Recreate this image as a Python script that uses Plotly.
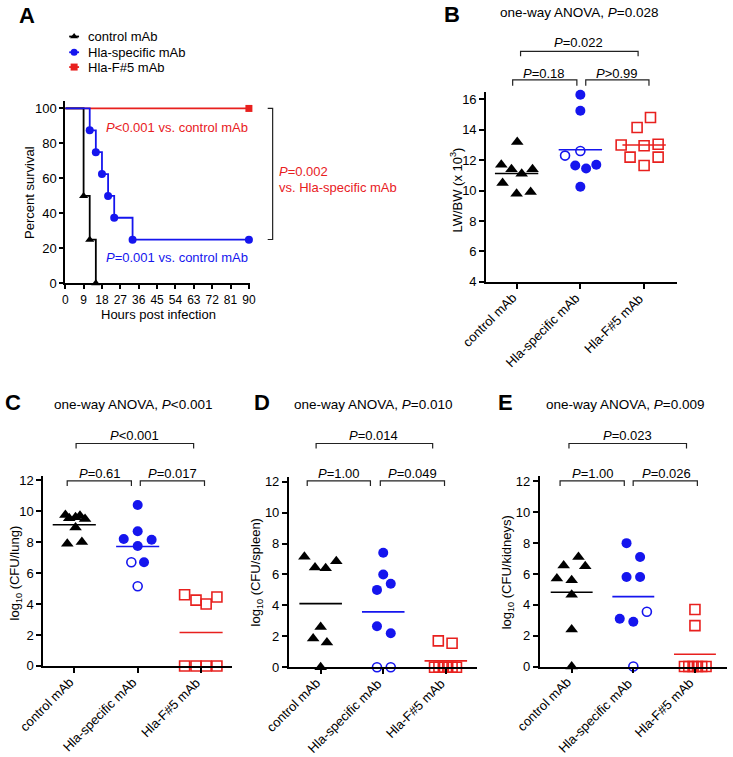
import numpy as np
import plotly.graph_objects as go

# ---------------- data ----------------
groups = ["control mAb", "Hla-specific mAb", "Hla-F#5 mAb"]

# Panel A: Kaplan-Meier survival
ctrl_hours = [0, 9, 12, 15]
ctrl_surv = [100, 50, 25, 0]
hla_hours = [0, 12, 15, 18, 21, 24, 33, 90]
hla_surv = [100, 87.5, 75, 62.5, 50, 37.5, 25, 25]
f5_hours = [0, 90]
f5_surv = [100, 100]
a_xticks = list(range(0, 91, 9))
a_yticks = [0, 20, 40, 60, 80, 100]

# Panel B: LW/BW (x 10^3)
b_ctrl = [13.2, 11.7, 11.4, 11.4, 11.1, 10.5, 9.8, 9.9]
b_hla = [16.3, 15.25, 12.3, 12.6, 11.65, 11.45, 11.7, 10.25]
b_hla_open = [0, 0, 1, 1, 0, 0, 0, 0]
b_f5 = [14.8, 14.15, 13.0, 12.95, 13.05, 12.2, 12.2, 11.65]
b_yticks = [4, 6, 8, 10, 12, 14, 16]

# Panel C: log10 CFU / lung
c_ctrl = [9.75, 9.55, 9.7, 9.5, 9.6, 8.95, 7.9, 8.0]
c_hla = [10.4, 8.7, 8.2, 8.15, 7.75, 6.7, 6.7, 5.15]
c_hla_open = [0, 0, 0, 0, 0, 1, 0, 1]
c_f5 = [4.6, 4.25, 4.0, 4.45, 0, 0, 0, 0]

# Panel D: log10 CFU / spleen
d_ctrl = [7.15, 6.45, 6.4, 6.85, 2.6, 1.85, 1.6, 0]
d_hla = [7.4, 6.0, 5.4, 5.0, 2.65, 2.2, 0, 0]
d_hla_open = [0, 0, 0, 0, 0, 0, 1, 1]
d_f5 = [1.7, 1.55, 0, 0, 0, 0, 0, 0]

# Panel E: log10 CFU / kidneys
e_ctrl = [7.1, 6.55, 6.5, 5.7, 5.6, 4.65, 2.4, 0]
e_hla = [8.0, 7.1, 5.8, 5.8, 3.1, 2.9, 3.55, 0]
e_hla_open = [0, 0, 0, 0, 0, 0, 1, 1]
e_f5 = [3.7, 2.65, 0, 0, 0, 0, 0, 0]
cfu_yticks = [0, 2, 4, 6, 8, 10, 12]

# ---------------- layout helpers (positions / styles) ----------------
W, H = 733, 757
BLACK, BLUE, RED = "#000000", "#1515ee", "#e8201e"
FONT = "Liberation Sans, Arial, sans-serif"


def px(x):
    return x / W


def py(y):
    return 1 - y / H


# horizontal scatter offsets (jitter) within each category
b_dx = [[0.01, -0.24, -0.08, 0.25, 0.08, -0.22, 0.0, 0.22],
        [0.0, 0.0, -0.24, 0.0, -0.08, 0.09, 0.25, 0.0],
        [0.1, -0.11, -0.36, 0.0, 0.22, -0.22, 0.22, 0.0]]
c_dx = [[-0.14, -0.08, 0.09, 0.17, 0.02, 0.02, -0.11, 0.12],
        [0.0, 0.0, -0.22, 0.22, 0.0, -0.1, 0.1, 0.0],
        [-0.26, -0.08, 0.08, 0.25, -0.26, -0.08, 0.08, 0.25]]
d_dx = [[-0.26, -0.09, 0.08, 0.25, 0.0, -0.12, 0.1, 0.0],
        [0.0, 0.0, 0.12, -0.1, -0.1, 0.12, -0.1, 0.12],
        [-0.12, 0.1, -0.18, -0.11, -0.04, 0.03, 0.1, 0.17]]
e_dx = [[0.11, -0.13, 0.22, -0.24, 0.0, 0.0, 0.0, 0.0],
        [-0.11, 0.11, -0.11, 0.11, -0.22, 0.0, 0.22, 0.0],
        [0.0, 0.0, -0.17, -0.1, -0.03, 0.04, 0.11, 0.18]]

# axis geometry in pixels: (x-left, x-right, range-lo, range-hi, y-bottom, y-top, yrange-hi)
geo = {
    "2": (489, 682, -0.48, 2.51, 283, 90, 16.5),
    "3": (40.7, 232, -0.49, 2.49, 672.7, 480, 12.27),
    "4": (289.3, 480, -0.51, 2.5, 674, 481, 12.3),
    "5": (543.3, 733, -0.52, 2.52, 673.3, 480, 12.35),
}

fig = go.Figure()
annotations = []
shapes = []


def ann(text, x, y, size=13, color=BLACK, xanchor="center", yanchor="middle", angle=0, bold=False):
    if bold:
        text = "<b>" + text + "</b>"
    annotations.append(dict(text=text, x=px(x), y=py(y), xref="paper", yref="paper",
                            xanchor=xanchor, yanchor=yanchor, showarrow=False,
                            textangle=angle, font=dict(size=size, color=color, family=FONT)))


def bracket(x1, x2, yline, yleg, color="#222222"):
    shapes.append(dict(type="path", xref="paper", yref="paper",
                       path=f"M {px(x1)},{py(yleg)} L {px(x1)},{py(yline)} L {px(x2)},{py(yline)} L {px(x2)},{py(yleg)}",
                       line=dict(color=color, width=1.2)))


# ---------------- Panel A ----------------
for hrs, sv, col, sym, msz in [(f5_hours, f5_surv, RED, "square", 7),
                               (ctrl_hours, ctrl_surv, BLACK, "triangle-up", 8),
                               (hla_hours, hla_surv, BLUE, "circle", 8)]:
    fig.add_trace(go.Scatter(x=hrs, y=sv, mode="lines", line=dict(color=col, width=1.8, shape="hv"),
                             xaxis="x", yaxis="y", showlegend=False, cliponaxis=False))
    fig.add_trace(go.Scatter(x=hrs[1:], y=sv[1:], mode="markers",
                             marker=dict(symbol=sym, size=msz, color=col),
                             xaxis="x", yaxis="y", showlegend=False, cliponaxis=False))

# manual legend (overlay axis in pixel units)
leg = [(groups[0], BLACK, "triangle-up", 34), (groups[1], BLUE, "circle", 50), (groups[2], RED, "square", 65)]
for name, col, sym, yy in leg:
    fig.add_trace(go.Scatter(x=[67, 77], y=[yy, yy], mode="lines", line=dict(color=col, width=1.8),
                             xaxis="x6", yaxis="y6", showlegend=False))
    fig.add_trace(go.Scatter(x=[72], y=[yy], mode="markers", marker=dict(symbol=sym, size=7, color=col),
                             xaxis="x6", yaxis="y6", showlegend=False))
    ann(name, 84, yy, xanchor="left")

ann("A", 24, 13, size=22, bold=True)
ann("<i>P</i>&lt;0.001 vs. control mAb", 102, 126, color=RED, xanchor="left")
ann("<i>P</i>=0.001 vs. control mAb", 102, 258, color=BLUE, xanchor="left")
shapes.append(dict(type="path", xref="paper", yref="paper",
                   path=f"M {px(268)},{py(107)} L {px(273)},{py(107)} L {px(273)},{py(240)} L {px(268)},{py(240)}",
                   line=dict(color="#222222", width=1.2)))
ann("<i>P</i>=0.002", 277, 171, color=RED, xanchor="left")
ann("vs. Hla-specific mAb", 277, 187, color=RED, xanchor="left")
ann("Hours post infection", 157, 316)
ann("Percent survival", 27, 192, angle=-90)


# ---------------- dot panels ----------------
def dot_panel(ax, data, hollow, dxs):
    xa, ya = "x" + ax, "y" + ax
    specs = [(BLACK, "triangle-up", 11), (BLUE, "circle", 10), (RED, "square-open", 10)]
    for gi, vals in enumerate(data):
        col, sym, size = specs[gi]
        xs = [gi + d for d in dxs[gi]]
        if gi == 1:
            fx = [x for x, h in zip(xs, hollow) if not h]
            fy = [v for v, h in zip(vals, hollow) if not h]
            ox = [x for x, h in zip(xs, hollow) if h]
            oy = [v for v, h in zip(vals, hollow) if h]
            fig.add_trace(go.Scatter(x=fx, y=fy, mode="markers", marker=dict(symbol="circle", size=size, color=col),
                                     xaxis=xa, yaxis=ya, showlegend=False, cliponaxis=False))
            fig.add_trace(go.Scatter(x=ox, y=oy, mode="markers",
                                     marker=dict(symbol="circle-open", size=size - 1, color=col, line=dict(width=1.6)),
                                     xaxis=xa, yaxis=ya, showlegend=False, cliponaxis=False))
        else:
            mk = dict(symbol=sym, size=size, color=col)
            if sym.endswith("open"):
                mk["line"] = dict(width=1.6, color=col)
            fig.add_trace(go.Scatter(x=xs, y=vals, mode="markers", marker=mk,
                                     xaxis=xa, yaxis=ya, showlegend=False, cliponaxis=False))
        m = float(np.mean(vals))
        fig.add_trace(go.Scatter(x=[gi - 0.34, gi + 0.34], y=[m, m], mode="lines",
                                 line=dict(color=col, width=1.6), xaxis=xa, yaxis=ya,
                                 showlegend=False, cliponaxis=False))
    # rotated category labels
    x0, x1, r0, r1, yb, _, _ = geo[ax]
    for gi, g in enumerate(groups):
        tx = x0 + (gi - r0) / (r1 - r0) * (x1 - x0)
        ann(g, tx + 5, yb + 6, xanchor="right", yanchor="top", angle=-45)


dot_panel("2", [b_ctrl, b_hla, b_f5], b_hla_open, b_dx)
dot_panel("3", [c_ctrl, c_hla, c_f5], c_hla_open, c_dx)
dot_panel("4", [d_ctrl, d_hla, d_f5], d_hla_open, d_dx)
dot_panel("5", [e_ctrl, e_hla, e_f5], e_hla_open, e_dx)

# Panel B decorations
ann("B", 455, 12, size=22, bold=True)
ann("one-way ANOVA, <i>P</i>=0.028", 583, 10, size=13.5)
ann("<i>P</i>=0.022", 583, 40)
bracket(524, 643, 49, 54)
ann("<i>P</i>=0.18", 548, 72)
bracket(516, 581, 78, 84)
ann("<i>P</i>&gt;0.99", 622, 72)
bracket(590, 654, 78, 84)
ann("LW/BW (x 10<sup>3</sup>)", 459, 190, angle=-90)

# Panel C/D/E decorations
panel_deco = [
    ("C", 10, 132, "one-way ANOVA, <i>P</i>&lt;0.001", "<i>P</i>&lt;0.001", 133, (74, 193),
     "<i>P</i>=0.61", 98, (65, 130), "<i>P</i>=0.017", 172, (139, 204), "log<sub>10</sub> (CFU/lung)", 13),
    ("D", 262, 375, "one-way ANOVA, <i>P</i>=0.010", "<i>P</i>=0.014", 375, (317, 435),
     "<i>P</i>=1.00", 340, (308, 372), "<i>P</i>=0.049", 415, (382, 447), "log<sub>10</sub> (CFU/spleen)", 257),
    ("E", 509, 630, "one-way ANOVA, <i>P</i>=0.009", "<i>P</i>=0.023", 632, (573, 692),
     "<i>P</i>=1.00", 597, (564, 629), "<i>P</i>=0.026", 672, (638, 703), "log<sub>10</sub> (CFU/kidneys)", 511),
]
for (lab, lx, tx, title, ptop, ptx, pspan, p1, p1x, s1, p2, p2x, s2, ylab, ylx) in panel_deco:
    ann(lab, lx, 405, size=22, bold=True)
    ann(title, tx, 407, size=13.5)
    ann(ptop, ptx, 439)
    bracket(pspan[0], pspan[1], 447, 452)
    ann(p1, p1x, 477)
    bracket(s1[0], s1[1], 485, 490)
    ann(p2, p2x, 477)
    bracket(s2[0], s2[1], 485, 490)
    ann(ylab, ylx, 578, angle=-90)

# ---------------- axes ----------------
axis_style = dict(showline=True, linecolor=BLACK, linewidth=1.6, showgrid=False, zeroline=False,
                  ticks="outside", ticklen=5, tickwidth=1.5, tickcolor=BLACK,
                  tickfont=dict(size=13, color=BLACK, family=FONT))

layout = dict(
    width=W, height=H, margin=dict(l=0, r=0, t=0, b=0),
    paper_bgcolor="white", plot_bgcolor="rgba(0,0,0,0)",
    font=dict(family=FONT, size=13, color=BLACK),
    showlegend=False,
    annotations=annotations, shapes=shapes,
)
layout["xaxis"] = dict(axis_style, domain=[px(63), px(250)], range=[0, 90.5], tickvals=a_xticks,
                       anchor="y", ticklen=4, tickfont=dict(size=12, color=BLACK, family=FONT))
layout["yaxis"] = dict(axis_style, domain=[py(284.5), py(99)], range=[0, 104.5], tickvals=a_yticks,
                       anchor="x", ticklen=4)

for k, (x0, x1, r0, r1, yb, yt, yhi) in geo.items():
    layout["xaxis" + k] = dict(axis_style, tickvals=[0, 1, 2], showticklabels=False,
                               domain=[px(x0), min(1.0, px(x1))], range=[r0, r1], anchor="y" + k)
    layout["yaxis" + k] = dict(axis_style, domain=[py(yb), py(yt)],
                               range=[4 if k == "2" else 0, yhi],
                               tickvals=b_yticks if k == "2" else cfu_yticks, anchor="x" + k)

layout["xaxis6"] = dict(domain=[0, 1], range=[0, W], visible=False, anchor="y6")
layout["yaxis6"] = dict(domain=[0, 1], range=[H, 0], visible=False, anchor="x6")

fig.update_layout(**layout)
fig.write_html("out.html", config={"displayModeBar": False},
               post_script="document.body.style.margin='0';document.body.style.overflow='hidden';")
